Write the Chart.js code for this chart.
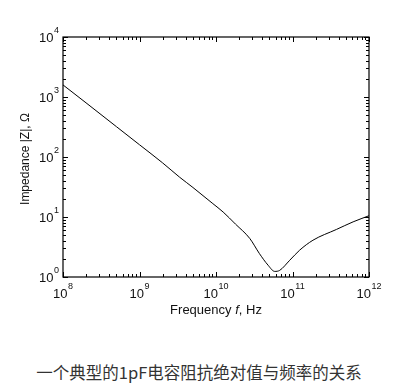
<!DOCTYPE html>
<html>
<head>
<meta charset="utf-8">
<script src="https://cdn.jsdelivr.net/npm/chart.js@4.4.1/dist/chart.umd.min.js"></script>
<style>
    body { margin: 0; background: #fff; width: 398px; height: 391px; overflow: hidden; }
    #wrap { position: absolute; left: 0; top: 0; width: 398px; height: 330px; }
    #caption {
        position: absolute; left: 0; top: 364px; width: 398px;
        text-align: center; white-space: nowrap;
        font: 16.5px/17px "Noto Sans CJK SC", sans-serif; color: #333;
    }
</style>
</head>
<body>
<div id="wrap"><canvas id="impChart"></canvas></div>
<div id="caption">一个典型的1pF电容阻抗绝对值与频率的关系</div>
<script>
// frequency (Hz) and |Z| (ohm)
const freqHz = [1e8, 2e8, 5e8, 1e9, 2e9, 3.35e9, 5e9, 9.1e9, 1.24e10, 1.8e10, 2.76e10,
    3.7e10, 4.8e10, 5.85e10, 6.8e10, 9.2e10, 1.24e11, 1.85e11, 3.75e11, 6.2e11, 1e12];
const impedanceOhm = [1590, 800, 320, 160, 80, 46, 31, 16.7, 12.1, 7.6, 4.4,
    2.45, 1.57, 1.24, 1.29, 1.9, 2.8, 4.1, 6.2, 8.3, 10.5];

const xTickValues = [1e8, 1e9, 1e10, 1e11, 1e12];
const yTickValues = [1e0, 1e1, 1e2, 1e3, 1e4];
const xTitle = ['Frequency ', 'f', ', Hz'];
const yTitle = 'Impedance |Z|, \u03A9';

const FONT = '"Liberation Sans", Arial, sans-serif';
const INK = '#111';

function minorTicks(min, max) {
    const out = [];
    for (let d = Math.log10(min); d < Math.log10(max); d++) {
        for (let k = 1; k < 10; k++) out.push({ value: k * Math.pow(10, d), major: k === 1 });
    }
    out.push({ value: max, major: true });
    return out;
}

// draws "10" with a raised exponent; anchor is left edge
function drawPow(ctx, exp, x, baseY) {
    ctx.font = '13px ' + FONT;
    ctx.fillText('10', x, baseY);
    const w = ctx.measureText('10').width;
    ctx.font = '9px ' + FONT;
    ctx.fillText(String(exp), x + w + 0.5, baseY - 9.5);
}
function powWidth(ctx, exp) {
    ctx.font = '13px ' + FONT;
    const w = ctx.measureText('10').width;
    ctx.font = '9px ' + FONT;
    return w + 0.5 + ctx.measureText(String(exp)).width;
}

const framePlugin = {
    id: 'frame',
    afterDraw(chart) {
        const { ctx, chartArea: a, scales } = chart;
        ctx.save();
        ctx.strokeStyle = '#000';
        ctx.lineWidth = 1.2;
        ctx.strokeRect(a.left, a.top, a.right - a.left, a.bottom - a.top);

        // inward ticks on all four sides
        ctx.lineWidth = 1;
        ctx.beginPath();
        scales.x.ticks.forEach(t => {
            const px = Math.round(scales.x.getPixelForValue(t.value)) + 0.5;
            const len = t.major ? 5 : 3;
            ctx.moveTo(px, a.bottom); ctx.lineTo(px, a.bottom - len);
            ctx.moveTo(px, a.top); ctx.lineTo(px, a.top + len);
        });
        scales.y.ticks.forEach(t => {
            const py = Math.round(scales.y.getPixelForValue(t.value)) + 0.5;
            const len = t.major ? 5 : 3;
            ctx.moveTo(a.left, py); ctx.lineTo(a.left + len, py);
            ctx.moveTo(a.right, py); ctx.lineTo(a.right - len, py);
        });
        ctx.stroke();

        // tick labels
        ctx.fillStyle = INK;
        ctx.textAlign = 'left';
        ctx.textBaseline = 'alphabetic';
        xTickValues.forEach(v => {
            const e = Math.round(Math.log10(v));
            const px = scales.x.getPixelForValue(v);
            drawPow(ctx, e, px - powWidth(ctx, e) / 2, a.bottom + 21);
        });
        yTickValues.forEach(v => {
            const e = Math.round(Math.log10(v));
            const py = scales.y.getPixelForValue(v);
            drawPow(ctx, e, a.left - 4 - powWidth(ctx, e), py + 5);
        });

        // x axis title with italic f
        const parts = xTitle.map((s, i) => ({ s, font: (i === 1 ? 'italic ' : '') + '13px ' + FONT }));
        let total = 0;
        parts.forEach(p => { ctx.font = p.font; p.w = ctx.measureText(p.s).width; total += p.w; });
        let cx = (a.left + a.right) / 2 - total / 2;
        parts.forEach(p => { ctx.font = p.font; ctx.fillText(p.s, cx, a.bottom + 37); cx += p.w; });

        // y axis title
        ctx.translate(29, (a.top + a.bottom) / 2 + 2);
        ctx.rotate(-Math.PI / 2);
        ctx.font = '12px ' + FONT;
        ctx.textAlign = 'center';
        ctx.fillText(yTitle, 0, 0);
        ctx.restore();
    }
};

new Chart(document.getElementById('impChart'), {
    type: 'line',
    data: {
        datasets: [{
            data: freqHz.map((f, i) => ({ x: f, y: impedanceOhm[i] })),
            borderColor: '#000',
            borderWidth: 1,
            pointRadius: 0,
            cubicInterpolationMode: 'monotone'
        }]
    },
    options: {
        responsive: true,
        maintainAspectRatio: false,
        animation: false,
        layout: { padding: { top: 37, right: 29, left: 0, bottom: 0 } },
        plugins: { legend: { display: false }, tooltip: { enabled: false } },
        scales: {
            x: {
                type: 'logarithmic', min: 1e8, max: 1e12,
                grid: { display: false }, border: { display: false },
                ticks: { display: false },
                afterBuildTicks: s => { s.ticks = minorTicks(1e8, 1e12); },
                afterFit: s => { s.height = 53; }
            },
            y: {
                type: 'logarithmic', min: 1, max: 1e4,
                grid: { display: false }, border: { display: false },
                ticks: { display: false },
                afterBuildTicks: s => { s.ticks = minorTicks(1, 1e4); },
                afterFit: s => { s.width = 63; }
            }
        }
    },
    plugins: [framePlugin]
});
</script>
</body>
</html>
